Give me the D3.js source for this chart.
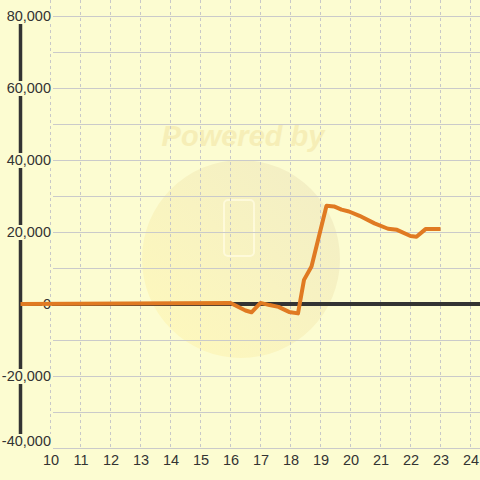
<!DOCTYPE html>
<html>
<head>
<meta charset="utf-8">
<script src="https://cdn.jsdelivr.net/npm/d3@7"></script>
<style>
  body { margin: 0; background: #fcfcd1; }
  svg { display: block; }
</style>
</head>
<body>
<div id="chart"></div>
<script>

// values
var xValues = [9, 16, 16.5, 16.7, 17.0, 17.3, 17.6, 17.95, 18.25, 18.45, 18.7, 19.2, 19.45, 19.7, 19.95, 20.3, 20.8, 21.25, 21.55, 22.0, 22.2, 22.5, 23.0];
var yValues = [0, 300, -1800, -2300, 300, -300, -800, -2200, -2600, 6700, 10400, 27300, 27100, 26200, 25700, 24500, 22400, 20900, 20600, 18900, 18700, 20800, 20800];
var xTicks = [10, 11, 12, 13, 14, 15, 16, 17, 18, 19, 20, 21, 22, 23, 24];
var yTicks = [-40000, -20000, 0, 20000, 40000, 60000, 80000];
var yGrid = [-40000, -30000, -20000, -10000, 10000, 20000, 30000, 40000, 50000, 60000, 70000, 80000];

var W = 480, H = 480;
var bg = "#fcfcd1";

var points = xValues.map(function(d, i) { return {x: d, y: yValues[i]}; });

var x = d3.scaleLinear().domain([9, 24]).range([20.5, 470.5]);
var y = d3.scaleLinear().domain([-40000, 80000]).range([448, 16]);

var svg = d3.select("#chart")
  .append("svg")
    .attr("width", W)
    .attr("height", H);

svg.append("rect")
  .attr("width", W).attr("height", H)
  .attr("fill", bg);

// faint watermark
var defs = svg.append("defs");
var grad = defs.append("linearGradient")
  .attr("id", "wm")
  .attr("x1", "0%").attr("y1", "100%")
  .attr("x2", "100%").attr("y2", "0%");
grad.append("stop").attr("offset", "0%").attr("stop-color", "#fff8b8");
grad.append("stop").attr("offset", "100%").attr("stop-color", "#f0ebc4");

svg.append("circle")
  .attr("cx", 241).attr("cy", 259).attr("r", 99)
  .attr("fill", "url(#wm)")
  .attr("opacity", 0.85);

svg.append("rect")
  .attr("x", 224).attr("y", 200).attr("width", 30).attr("height", 56)
  .attr("rx", 4)
  .attr("fill", "none")
  .attr("stroke", "#fffbe0")
  .attr("stroke-width", 2)
  .attr("opacity", 0.8);

svg.append("text")
  .attr("x", 243).attr("y", 146)
  .attr("text-anchor", "middle")
  .style("font-family", "'Liberation Sans', Arial, sans-serif")
  .style("font-size", "29px")
  .style("font-weight", "bold")
  .style("font-style", "italic")
  .attr("fill", "#f3e6a6")
  .attr("opacity", 0.6)
  .text("Powered by");

// grid
svg.append("g")
  .selectAll("line")
  .data(yGrid)
  .enter()
  .append("line")
    .attr("x1", 53).attr("x2", W)
    .attr("y1", function(d) { return Math.round(y(d)) + 0.5; })
    .attr("y2", function(d) { return Math.round(y(d)) + 0.5; })
    .attr("stroke", "#cacaca")
    .attr("stroke-width", 1);

svg.append("g")
  .selectAll("line")
  .data(xTicks)
  .enter()
  .append("line")
    .attr("x1", function(d) { return x(d); })
    .attr("x2", function(d) { return x(d); })
    .attr("y1", 0).attr("y2", 448)
    .attr("stroke", "#c8c8c8")
    .attr("stroke-width", 1)
    .attr("stroke-dasharray", "3,3");

// zero line
svg.append("line")
  .attr("x1", 20).attr("x2", W)
  .attr("y1", y(0)).attr("y2", y(0))
  .attr("stroke", "#333")
  .attr("stroke-width", 4);

// y axis bar
svg.append("line")
  .attr("x1", 20.5).attr("x2", 20.5)
  .attr("y1", y(80000)).attr("y2", y(-40000))
  .attr("stroke", "#333")
  .attr("stroke-width", 3.5);

var fmt = d3.format(",");

var yAxis = svg.append("g")
  .attr("transform", "translate(51,0)")
  .call(d3.axisLeft(y).tickValues(yTicks).tickSize(0).tickPadding(0)
        .tickFormat(function(d) { return fmt(d).replace("\u2212", "-"); }));
yAxis.select(".domain").remove();
yAxis.selectAll("text")
  .style("font-family", "'Liberation Sans', Arial, sans-serif")
  .style("font-size", "14.5px")
  .attr("fill", "#333");

// the lowest label is pushed up to stay inside the plot
yAxis.selectAll(".tick")
  .filter(function(d) { return d === -40000; })
  .attr("transform", "translate(0," + (y(-40000) - 6.5) + ")");

// label backgrounds hide the axis bar behind them
yAxis.selectAll(".tick").each(function() {
  var t = d3.select(this).select("text");
  var b = t.node().getBBox();
  d3.select(this).insert("rect", "text")
    .attr("x", b.x - 1).attr("y", -7.5)
    .attr("width", b.width + 2).attr("height", 15)
    .attr("fill", bg);
});

var xAxis = svg.append("g")
  .attr("transform", "translate(0,448)")
  .call(d3.axisBottom(x).tickValues(xTicks).tickSize(0).tickPadding(7));
xAxis.select(".domain").remove();
xAxis.selectAll("text")
  .style("font-family", "'Liberation Sans', Arial, sans-serif")
  .style("font-size", "14.5px")
  .attr("fill", "#333");

// series
var line = d3.line()
  .x(function(d) { return x(d.x); })
  .y(function(d) { return y(d.y); });

svg.append("path")
  .datum(points)
  .attr("d", line)
  .attr("fill", "none")
  .attr("stroke", "#e07a22")
  .attr("stroke-width", 4)
  .attr("stroke-linejoin", "round");

</script>
</body>
</html>
